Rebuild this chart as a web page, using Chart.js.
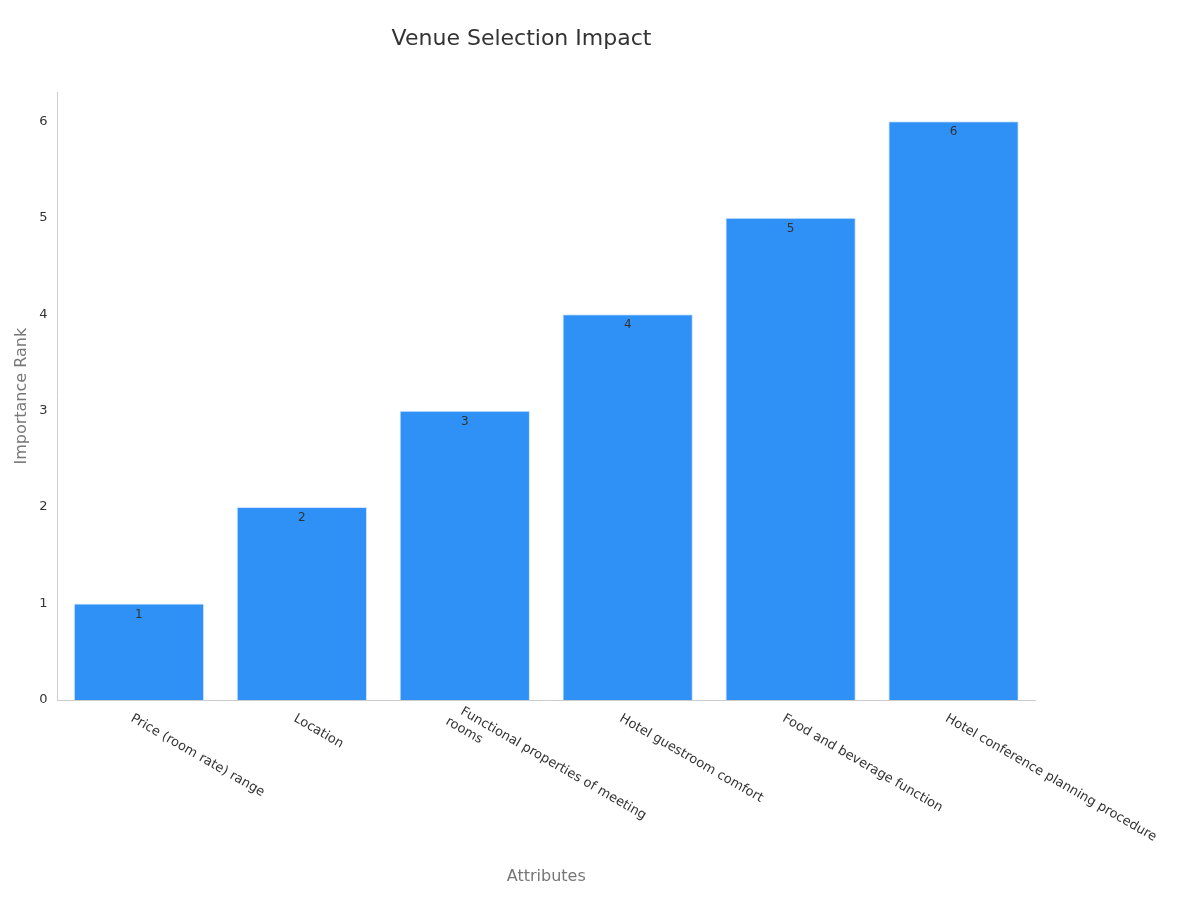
<!DOCTYPE html>
<html>
<head>
<meta charset="utf-8">
<script src="https://cdn.jsdelivr.net/npm/chart.js@4"></script>
<style>
  body { margin: 0; background: #fff; }
  #wrap { width: 1200px; height: 900px; }
</style>
</head>
<body>
<div id="wrap"><canvas id="chart"></canvas></div>
<script>
const categories = [
    'Price (room rate) range',
    'Location',
    ['Functional properties of meeting', 'rooms'],
    'Hotel guestroom comfort',
    'Food and beverage function',
    'Hotel conference planning procedure'
];
const ranks = [1, 2, 3, 4, 5, 6];
const yTicks = [0, 1, 2, 3, 4, 5, 6];

const font = 'DejaVu Sans';

// value labels inside the bar tops and slanted category labels
const labelPlugin = {
    id: 'labels',
    afterDatasetsDraw(chart) {
        const ctx = chart.ctx;
        const meta = chart.getDatasetMeta(0);
        ctx.save();
        ctx.font = '12px "' + font + '"';
        ctx.fillStyle = '#333';
        ctx.textAlign = 'center';
        ctx.textBaseline = 'top';
        meta.data.forEach((bar, i) => {
            ctx.fillText(String(ranks[i]), bar.x, bar.y + 5);
        });

        const xs = chart.scales.x;
        ctx.font = '13px "' + font + '"';
        ctx.fillStyle = '#333';
        ctx.textAlign = 'left';
        ctx.textBaseline = 'top';
        categories.forEach((c, i) => {
            const x = xs.getPixelForTick(i);
            const lines = Array.isArray(c) ? c : [c];
            ctx.save();
            ctx.translate(x - 4, xs.top + 12);
            ctx.rotate(30 * Math.PI / 180);
            lines.forEach((l, j) => ctx.fillText(l, 0 - j * 8, j * 16 - (lines.length - 1) * 8));
            ctx.restore();
        });
        ctx.restore();
    }
};

new Chart(document.getElementById('chart').getContext('2d'), {
    type: 'bar',
    data: {
        labels: categories,
        datasets: [{
            data: ranks,
            backgroundColor: '#2f91f5',
            borderColor: '#d0e6fd',
            borderWidth: 1,
            barPercentage: 0.8,
            categoryPercentage: 1
        }]
    },
    options: {
        responsive: true,
        maintainAspectRatio: false,
        animation: false,
        layout: { padding: { left: 8, right: 165, bottom: 10 } },
        plugins: {
            legend: { display: false },
            tooltip: { enabled: false },
            title: {
                display: true,
                text: 'Venue Selection Impact',
                color: '#333',
                font: { family: font, size: 22, weight: 'normal' },
                padding: { top: 26, bottom: 40 }
            }
        },
        scales: {
            x: {
                grid: { display: false, drawTicks: true, tickLength: 6 },
                border: { color: '#ccc' },
                ticks: { display: false },
                afterFit(s) { s.height = 190; },
                title: {
                    display: true,
                    text: 'Attributes',
                    color: '#777',
                    font: { family: font, size: 16 }
                }
            },
            y: {
                min: 0,
                max: 6.3,
                grid: { display: false, drawTicks: true, tickLength: 6 },
                border: { color: '#ccc' },
                afterBuildTicks(s) {
                    s.ticks = yTicks.map(v => ({ value: v }));
                },
                ticks: {
                    color: '#333',
                    font: { family: font, size: 13 },
                    padding: 4
                },
                title: {
                    display: true,
                    text: 'Importance Rank',
                    color: '#777',
                    font: { family: font, size: 16 }
                }
            }
        }
    },
    plugins: [labelPlugin]
});
</script>
</body>
</html>
